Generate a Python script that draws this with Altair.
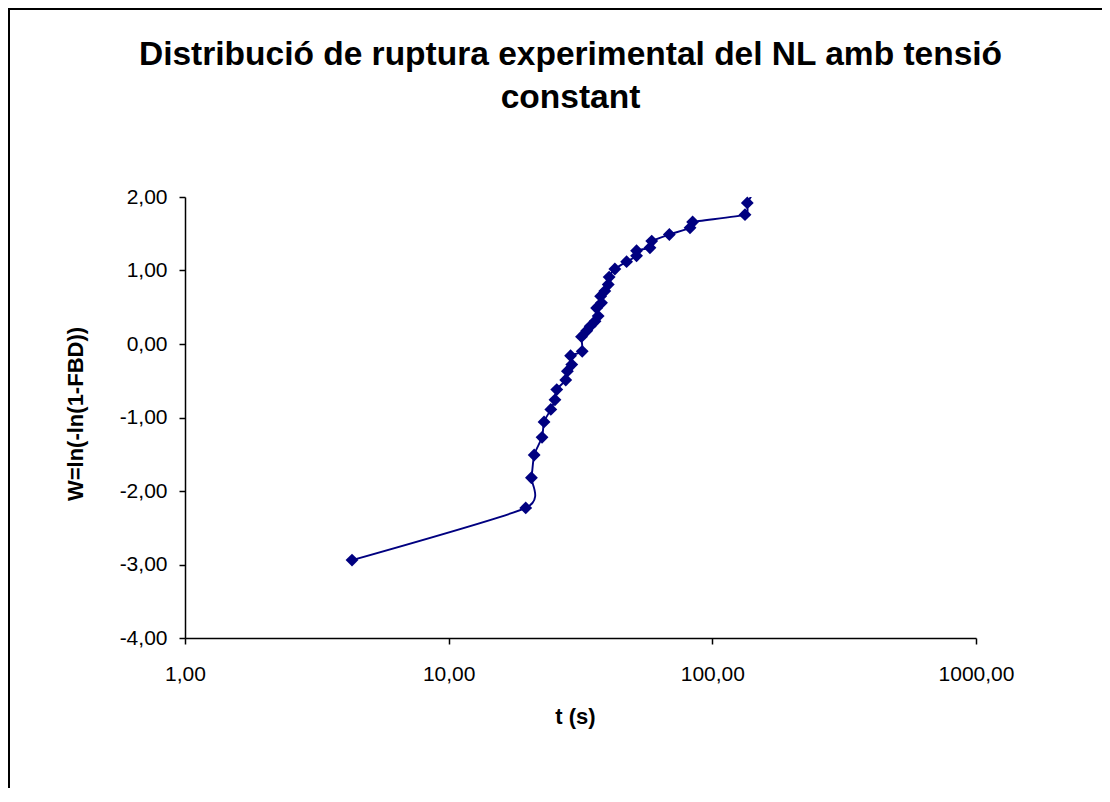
import altair as alt
import pandas as pd

# time to breakdown (s) and Weibull variable W = ln(-ln(1-FBD))
t_s = [4.3, 19.6, 20.6, 21.1, 22.6, 23.0, 24.4, 25.3, 25.7, 27.8, 28.2, 29.3,
       29.0, 32.1, 31.9, 33.4, 34.4, 35.9, 36.9, 36.4, 38.0, 37.7, 39.1, 40.3,
       40.6, 42.7, 47.3, 51.6, 51.6, 58.0, 58.9, 68.7, 82.3, 84.2, 133.0, 135.7]
w_vals = [-2.94, -2.23, -1.82, -1.51, -1.27, -1.06, -0.89, -0.76, -0.62, -0.49,
          -0.37, -0.28, -0.16, -0.10, 0.10, 0.18, 0.24, 0.31, 0.38, 0.49, 0.56,
          0.65, 0.72, 0.81, 0.91, 1.02, 1.12, 1.20, 1.27, 1.31, 1.40, 1.49, 1.58,
          1.66, 1.76, 1.92]
# last point lies above the axis range (only the line reaches it, clipped)
t_tail = [152.0]
w_tail = [2.2]

x_ticks = [1, 10, 100, 1000]
y_ticks = [-4, -3, -2, -1, 0, 1, 2]
title_lines = ["Distribució de ruptura experimental del NL amb tensió", "constant"]
x_title = "t (s)"
y_title = "W=ln(-ln(1-FBD))"

pts = pd.DataFrame({"t": t_s, "W": w_vals, "i": list(range(len(t_s)))})
line_df = pd.DataFrame({"t": t_s + t_tail, "W": w_vals + w_tail,
                        "i": list(range(len(t_s) + 1))})

FONT = "Liberation Sans"
NAVY = "#000080"
fmt = "replace(replace(format(datum.value, '.2f'), '.', ','), '\u2212', '-')"

W_PLOT, H_PLOT = 791, 441

x_enc = alt.X("t:Q",
              scale=alt.Scale(type="log", domain=[1, 1000], nice=False),
              axis=alt.Axis(values=x_ticks, labelExpr=fmt, title=x_title,
                            labelPadding=19, labelFlush=False, labelOverlap=False,
                            titleX=390, titleY=85, titleAlign="center",
                            titleBaseline="alphabetic"))
y_enc = alt.Y("W:Q",
              scale=alt.Scale(domain=[-4, 2], nice=False, zero=False),
              axis=alt.Axis(values=y_ticks, labelExpr=fmt, title=y_title,
                            labelPadding=12, labelFlush=False, labelOverlap=False,
                            titleX=-110, titleY=H_PLOT / 2 - 4, titleAngle=-90,
                            titleAlign="center", titleBaseline="middle"))

border = alt.Chart(pd.DataFrame({"k": [0]})).mark_rect(
    fill=None, stroke="black", strokeWidth=2, clip=False
).encode(x=alt.value(-176), x2=alt.value(980), y=alt.value(-188), y2=alt.value(700))

line = alt.Chart(line_df).mark_line(
    color=NAVY, strokeWidth=1.9, interpolate="cardinal", tension=0.4, clip=True
).encode(x=x_enc, y=y_enc, order="i:Q")

points = alt.Chart(pts).mark_point(
    shape="diamond", filled=True, size=165, color=NAVY, opacity=1
).encode(x=x_enc, y=y_enc)

chart = alt.layer(border, line, points).properties(
    width=W_PLOT, height=H_PLOT,
    background="white",
    autosize=alt.AutoSizeParams(type="none"),
    padding={"left": 177, "top": 189, "right": 126, "bottom": 150},
    title=alt.TitleParams(text=title_lines, font=FONT, fontSize=33.5, fontWeight="bold",
                          color="black", anchor="middle", frame="group", dx=-10,
                          offset=0, dy=133, baseline="alphabetic", lineHeight=43),
).configure_view(stroke=None).configure_axis(
    grid=False, labelFont=FONT, labelFontSize=21, labelColor="black",
    titleFont=FONT, titleFontSize=22, titleFontWeight="bold", titleColor="black",
    domainColor="black", domainWidth=1.5, tickColor="black", tickWidth=1.5, tickSize=6,
)

chart.save("out.html", embed_options={"renderer": "svg", "actions": False})
